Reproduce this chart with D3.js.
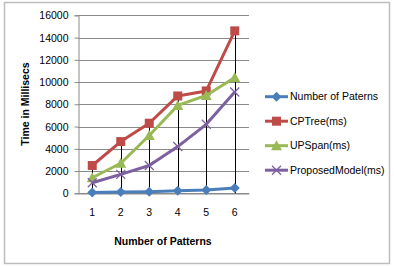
<!DOCTYPE html>
<html>
<head>
<meta charset="utf-8">
<script src="https://cdn.jsdelivr.net/npm/d3@7"></script>
<style>
  body { margin: 0; background: #fff; }
  svg text { font-family: "Liberation Sans", Arial, sans-serif; fill: #000; }
</style>
</head>
<body>
<svg id="chart" width="394" height="266"></svg>
<script>
(function(){
  'use strict';

  // data
  var categories = ['1', '2', '3', '4', '5', '6'];
  var seriesNames = ['Number of Paterns', 'CPTree(ms)', 'UPSpan(ms)', 'ProposedModel(ms)'];
  var numPatterns = [80, 120, 150, 220, 300, 480];
  var cpTree = [2500, 4650, 6300, 8750, 9200, 14600];
  var upSpan = [1400, 2700, 5200, 7900, 8800, 10400];
  var proposed = [950, 1700, 2500, 4200, 6200, 9100];
  var yTicks = [0, 2000, 4000, 6000, 8000, 10000, 12000, 14000, 16000];

  var seriesValues = [numPatterns, cpTree, upSpan, proposed];
  var colors = ['#4a7ebb', '#be4b48', '#98b954', '#7d60a0'];
  var markers = ['diamond', 'square', 'triangle', 'cross'];

  var svg = d3.select('#chart');

  // outer frame
  svg.append('rect')
    .attr('x', 4.5).attr('y', 2.5)
    .attr('width', 385).attr('height', 261)
    .style('fill', '#fff')
    .style('stroke', '#bdbdbd')
    .style('stroke-width', 1.5);

  var left = 78, right = 249, top = 15.3, bottom = 193.3;

  var x = d3.scaleBand()
    .domain(categories)
    .range([left, right]);

  var y = d3.scaleLinear()
    .domain([0, 16000])
    .range([bottom, top]);

  // gridlines
  svg.append('g')
    .attr('class', 'grid')
    .selectAll('line')
    .data(yTicks)
    .enter()
    .append('line')
    .attr('x1', left).attr('x2', right)
    .attr('y1', function(d) { return Math.round(y(d)) + 0.5; })
    .attr('y2', function(d) { return Math.round(y(d)) + 0.5; })
    .style('stroke', '#8a8a8a')
    .style('stroke-width', 1);

  // y axis
  var yAxis = d3.axisLeft(y)
    .tickValues(yTicks)
    .tickSize(4)
    .tickPadding(6)
    .tickFormat(function(d) { return d; });

  var gy = svg.append('g')
    .attr('transform', 'translate(' + (left + 0.5) + ',0)')
    .call(yAxis);
  gy.select('.domain').style('stroke', '#8a8a8a');
  gy.selectAll('.tick line').style('stroke', '#8a8a8a');
  gy.selectAll('.tick text')
    .style('font-size', '10.5px')
    .attr('dy', '0.35em');

  // x axis
  var xAxis = d3.axisBottom(x)
    .tickSize(0)
    .tickPadding(15);

  var gx = svg.append('g')
    .attr('transform', 'translate(0,' + (Math.round(bottom) + 0.5) + ')')
    .call(xAxis);
  gx.select('.domain').style('stroke', '#8a8a8a');
  gx.selectAll('.tick text').style('font-size', '10.5px');

  // drop lines
  svg.append('g')
    .selectAll('line')
    .data(categories)
    .enter()
    .append('line')
    .attr('x1', function(d) { return Math.round(x(d) + x.bandwidth() / 2) + 0.5; })
    .attr('x2', function(d) { return Math.round(x(d) + x.bandwidth() / 2) + 0.5; })
    .attr('y1', function(d, i) {
      return y(d3.max(seriesValues, function(s) { return s[i]; }));
    })
    .attr('y2', y(0))
    .style('stroke', '#000')
    .style('stroke-width', 1);

  var line = d3.line()
    .x(function(d, i) { return x(categories[i]) + x.bandwidth() / 2; })
    .y(function(d) { return y(d); });

  function drawMarker(g, type, color, cx, cy) {
    if (type === 'diamond') {
      g.append('path')
        .attr('d', 'M' + cx + ',' + (cy - 5) + 'L' + (cx + 5) + ',' + cy +
                   'L' + cx + ',' + (cy + 5) + 'L' + (cx - 5) + ',' + cy + 'Z')
        .style('fill', color);
    } else if (type === 'square') {
      g.append('rect')
        .attr('x', cx - 4.5).attr('y', cy - 4.5)
        .attr('width', 9).attr('height', 9)
        .style('fill', color);
    } else if (type === 'triangle') {
      g.append('path')
        .attr('d', 'M' + cx + ',' + (cy - 5.5) + 'L' + (cx + 5.5) + ',' + (cy + 4.5) +
                   'L' + (cx - 5.5) + ',' + (cy + 4.5) + 'Z')
        .style('fill', color);
    } else {
      g.append('path')
        .attr('d', 'M' + (cx - 4.5) + ',' + (cy - 4.5) + 'L' + (cx + 4.5) + ',' + (cy + 4.5) +
                   'M' + (cx + 4.5) + ',' + (cy - 4.5) + 'L' + (cx - 4.5) + ',' + (cy + 4.5))
        .style('stroke', color)
        .style('stroke-width', 1.3)
        .style('fill', 'none');
    }
  }

  // series lines and markers
  seriesValues.forEach(function(vals, si) {
    var g = svg.append('g');
    g.append('path')
      .datum(vals)
      .attr('d', line)
      .style('fill', 'none')
      .style('stroke', colors[si])
      .style('stroke-width', 3)
      .style('stroke-linejoin', 'round');
    vals.forEach(function(v, i) {
      drawMarker(g, markers[si], colors[si], x(categories[i]) + x.bandwidth() / 2, y(v));
    });
  });

  // axis titles
  svg.append('text')
    .attr('transform', 'translate(29,' + 104 + ') rotate(-90)')
    .attr('text-anchor', 'middle')
    .style('font-size', '10.5px')
    .style('font-weight', 'bold')
    .text('Time in Millisecs');

  svg.append('text')
    .attr('x', 163).attr('y', 245)
    .attr('text-anchor', 'middle')
    .style('font-size', '10.5px')
    .style('font-weight', 'bold')
    .text('Number of Patterns');

  // legend
  var legend = svg.append('g')
    .selectAll('g')
    .data(seriesNames)
    .enter()
    .append('g')
    .attr('transform', function(d, i) { return 'translate(265,' + (96.7 + i * 24.5) + ')'; });

  legend.append('line')
    .attr('x1', 0).attr('x2', 23)
    .attr('y1', 0).attr('y2', 0)
    .style('stroke', function(d, i) { return colors[i]; })
    .style('stroke-width', 3);

  legend.each(function(d, i) {
    drawMarker(d3.select(this), markers[i], colors[i], 11.5, 0);
  });

  legend.append('text')
    .attr('x', 25).attr('y', 0)
    .attr('dy', '0.35em')
    .style('font-size', '10.5px')
    .text(function(d) { return d; });

}());
</script>
</body>
</html>
